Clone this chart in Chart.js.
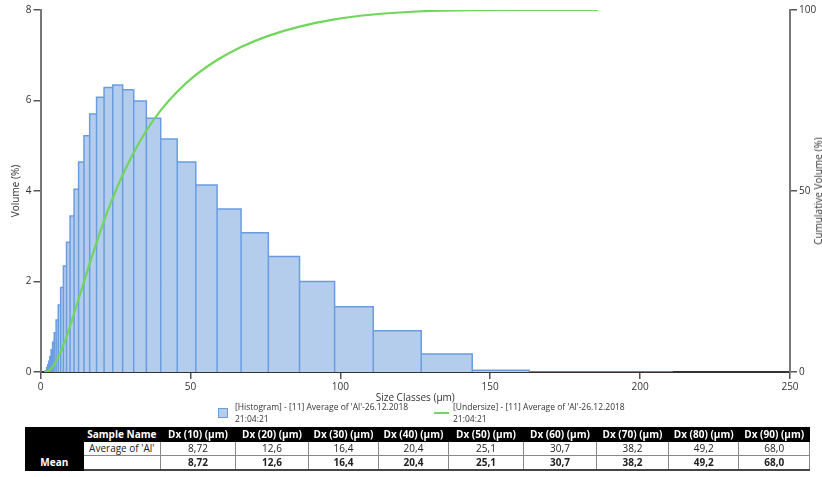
<!DOCTYPE html>
<html>
<head>
<meta charset="utf-8">
<script src="https://cdn.jsdelivr.net/npm/chart.js@4.4.1/dist/chart.umd.min.js"></script>
<style>
  html, body { margin:0; padding:0; background:#fff; }
  body { width:822px; height:477px; overflow:hidden; position:relative; font-family:"Open Sans", sans-serif; color:#222; }
  #chart { position:absolute; left:0; top:0; }
  #y2title { position:absolute; left:818px; top:191px; transform:translate(-50%,-50%) rotate(-90deg); font-size:10px; color:#333; white-space:nowrap; }
  .leg { position:absolute; font-size:8.5px; line-height:11.6px; color:#333; white-space:nowrap; }
  .legbox { position:absolute; width:8px; height:8px; background:#b3cdec; border:1px solid #6a9de0; }
  .legline { position:absolute; height:2.5px; background:#72d85e; }
  #tbl { position:absolute; left:25px; top:427px; border-collapse:collapse; table-layout:fixed; font-size:10px; }
  #tbl td { padding:0; height:13px; line-height:13px; text-align:center; white-space:nowrap; overflow:hidden; border:1px solid #888; color:#222; }
  #tbl tr.hdr td { background:#000; color:#fff; font-weight:bold; border-color:#000; }
  #tbl td.blk { background:#000 !important; color:#fff !important; font-weight:bold; border-color:#000 !important; }
  #tbl tr.mean td { font-weight:bold; border-bottom:2px solid #444; }
</style>
</head>
<body>
<canvas id="chart" width="822" height="404"></canvas>
<div id="y2title">Cumulative Volume (%)</div>
<div class="legbox" style="left:218px; top:408px;"></div>
<div class="leg" style="left:235px; top:401px;">[Histogram] - [11] Average of 'Al'-26.12.2018<br>21:04:21</div>
<div class="legline" style="left:434px; top:411.5px; width:15px;"></div>
<div class="leg" style="left:453px; top:401px;">[Undersize] - [11] Average of 'Al'-26.12.2018<br>21:04:21</div>
<table id="tbl"></table>
<script>
// ---------------- DATA ----------------
// size class edges (µm)
const sizeEdges = [1.45, 1.65, 1.88, 2.13, 2.42, 2.75, 3.12, 3.55, 4.03, 4.58,
                   5.21, 5.92, 6.72, 7.64, 8.68, 9.86, 11.2, 12.7, 14.5, 16.4,
                   18.7, 21.2, 24.1, 27.4, 31.1, 35.3, 40.1, 45.6, 51.8, 58.9,
                   66.9, 76.0, 86.4, 98.1, 111, 127, 144, 163, 186, 211];
// volume (%) in each size class (between consecutive edges)
const volumePct = [0.01, 0.03, 0.06, 0.10, 0.16, 0.24, 0.34, 0.49, 0.66, 0.87,
                   1.15, 1.48, 1.87, 2.34, 2.87, 3.45, 4.04, 4.64, 5.22, 5.70,
                   6.07, 6.29, 6.34, 6.24, 5.99, 5.61, 5.15, 4.64, 4.13, 3.60,
                   3.08, 2.55, 2.00, 1.44, 0.91, 0.40, 0.04, 0.00, 0.00];
// cumulative undersize (%) at the edges up to 186 µm
const undersizeSizes = [1.45, 1.65, 1.88, 2.13, 2.42, 2.75, 3.12, 3.55, 4.03, 4.58,
                        5.21, 5.92, 6.72, 7.64, 8.68, 9.86, 11.2, 12.7, 14.5, 16.4,
                        18.7, 21.2, 24.1, 27.4, 31.1, 35.3, 40.1, 45.6, 51.8, 58.9,
                        66.9, 76.0, 86.4, 98.1, 111, 127, 144, 163, 186];
const undersizePct = [0, 0.01, 0.04, 0.10, 0.20, 0.36, 0.60, 0.94, 1.43, 2.09,
                      2.96, 4.11, 5.59, 7.46, 9.80, 12.67, 16.12, 20.16, 24.80, 30.02,
                      35.72, 41.79, 48.08, 54.42, 60.66, 66.65, 72.26, 77.41, 82.05, 86.18,
                      89.78, 92.86, 95.41, 97.40, 98.75, 99.65, 99.95, 100, 100];
const xTickValues = [0, 50, 100, 150, 200, 250];
const yTickValues = [0, 2, 4, 6, 8];
const y2TickValues = [0, 50, 100];
// table
const sampleName = "Average of 'Al'";
const dxLabels = ['Dx (10) (µm)', 'Dx (20) (µm)', 'Dx (30) (µm)', 'Dx (40) (µm)', 'Dx (50) (µm)',
                  'Dx (60) (µm)', 'Dx (70) (µm)', 'Dx (80) (µm)', 'Dx (90) (µm)'];
const dxValues = ['8,72', '12,6', '16,4', '20,4', '25,1', '30,7', '38,2', '49,2', '68,0'];

// ---------------- CHART ----------------
const FONT = '"Open Sans", sans-serif';
Chart.defaults.font.family = FONT;
Chart.defaults.color = '#333';

// histogram outline built from edges & values
const histPoints = [{ x: sizeEdges[0], y: 0 }];
for (let i = 0; i < volumePct.length; i++) {
  histPoints.push({ x: sizeEdges[i], y: volumePct[i] });
  histPoints.push({ x: sizeEdges[i + 1], y: volumePct[i] });
  histPoints.push({ x: sizeEdges[i + 1], y: 0 });
}
const undersizePoints = undersizeSizes.map((s, i) => ({ x: s, y: undersizePct[i] }));

const axisCommon = (extra) => Object.assign({
  grid: { drawOnChartArea: false, drawTicks: true, tickLength: 7, color: '#555', lineWidth: 1.5 },
  border: { display: true, color: '#777', width: 2 },
}, extra);

new Chart(document.getElementById('chart'), {
  type: 'line',
  data: {
    datasets: [
      {
        label: 'Undersize',
        data: undersizePoints,
        yAxisID: 'y2',
        borderColor: '#6fd65b',
        borderWidth: 2.2,
        pointRadius: 0,
        fill: false,
        cubicInterpolationMode: 'monotone',
        order: 0
      },
      {
        label: 'Histogram',
        data: histPoints,
        yAxisID: 'y',
        borderColor: '#6a9de0',
        backgroundColor: '#b4cdec',
        borderWidth: 1.5,
        borderJoinStyle: 'miter',
        pointRadius: 0,
        tension: 0,
        fill: 'origin',
        order: 1
      }
    ]
  },
  options: {
    responsive: false,
    devicePixelRatio: 1,
    animation: false,
    layout: { padding: { top: 10, left: 0, right: 0, bottom: 0 } },
    plugins: { legend: { display: false }, tooltip: { enabled: false } },
    scales: {
      x: axisCommon({
        type: 'linear', position: 'bottom', min: 0, max: 250,
        border: { display: true, color: '#333', width: 2 },
        afterBuildTicks: (s) => { s.ticks = xTickValues.map(v => ({ value: v })); },
        ticks: { font: { size: 10 }, padding: 2, maxRotation: 0, color: '#333' },
        title: { display: true, text: 'Size Classes (µm)', font: { size: 10 }, padding: 0, color: '#333' },
        afterFit: (s) => { s.height = 32; }
      }),
      y: axisCommon({
        position: 'left', min: 0, max: 8,
        afterBuildTicks: (s) => { s.ticks = yTickValues.map(v => ({ value: v })); },
        ticks: { font: { size: 10 }, padding: 2, color: '#333' },
        title: { display: true, text: 'Volume (%)', font: { size: 10 }, padding: { top: 10.5 }, color: '#333' },
        afterFit: (s) => { s.width = 40.5; }
      }),
      y2: axisCommon({
        position: 'right', min: 0, max: 100,
        afterBuildTicks: (s) => { s.ticks = y2TickValues.map(v => ({ value: v })); },
        ticks: { font: { size: 10 }, padding: 2, color: '#333' },
        afterFit: (s) => { s.width = 32; }
      })
    }
  }
});

// ---------------- TABLE ----------------
const colWidths = [57.7, 77.3, 75, 73, 70, 70, 75, 73, 72, 70.5, 70.5];
const tbl = document.getElementById('tbl');
const cg = document.createElement('colgroup');
colWidths.forEach(w => { const c = document.createElement('col'); c.style.width = w + 'px'; cg.appendChild(c); });
tbl.appendChild(cg);
function addRow(cls, cells, firstBlack) {
  const tr = document.createElement('tr');
  if (cls) tr.className = cls;
  cells.forEach((t, i) => {
    const td = document.createElement('td');
    td.textContent = t;
    if (i === 0 && firstBlack) td.className = 'blk';
    tr.appendChild(td);
  });
  tbl.appendChild(tr);
}
addRow('hdr', ['', 'Sample Name'].concat(dxLabels), true);
addRow('', ['', sampleName].concat(dxValues), true);
addRow('mean', ['Mean', ''].concat(dxValues), true);
</script>
</body>
</html>
